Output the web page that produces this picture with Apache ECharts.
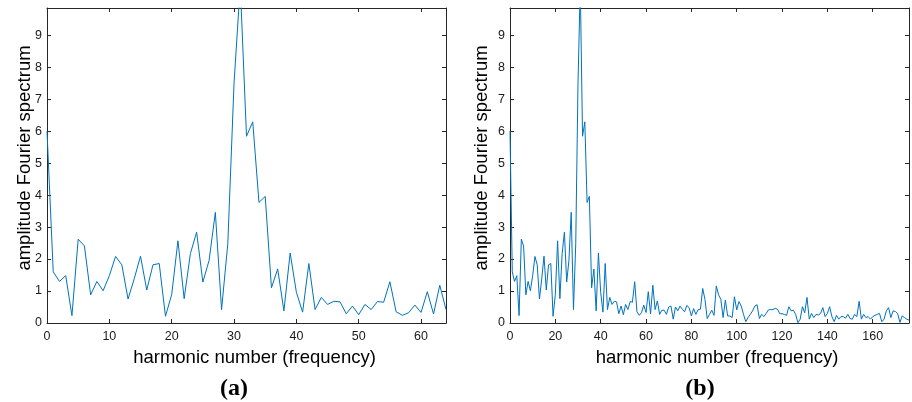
<!DOCTYPE html>
<html>
<head>
<meta charset="utf-8">
<script src="https://cdn.jsdelivr.net/npm/echarts@6/dist/echarts.min.js"></script>
<style>
html,body{margin:0;padding:0;background:#fff;}
#chart{width:912px;height:402px;}
</style>
</head>
<body>
<div id="chart"></div>
<script>
// Harmonic amplitudes, panel (a): harmonics 0..64
var spectrumA = [6.0,1.6,1.3,1.48,0.23,2.62,2.41,0.88,1.3,1.01,
  1.48,2.08,1.82,0.75,1.39,2.09,1.03,1.82,1.86,0.21,
  0.89,2.57,0.76,2.17,2.84,1.28,1.96,3.46,0.42,2.48,
  7.5,10.55,5.84,6.29,3.77,3.96,1.1,1.69,0.38,2.19,
  0.96,0.34,1.86,0.42,0.8,0.58,0.68,0.66,0.29,0.53,
  0.26,0.58,0.42,0.67,0.65,1.29,0.35,0.24,0.32,0.56,
  0.33,0.98,0.28,1.18,0.42];
// Panel (b) continues the same spectrum: harmonics 65..176
var spectrumBTail = [0.69,0.27,0.4,0.4,0.27,0.5,0.53,0.12,0.5,0.38,
  0.53,0.43,0.35,0.55,0.48,0.22,0.45,0.27,0.42,0.43,
  1.08,0.74,0.14,0.27,0.4,0.24,1.16,0.88,0.74,0.17,
  0.72,0.22,0.22,0.17,0.82,0.41,0.67,0.53,0.27,0.04,
  0.17,0.27,0.38,0.53,0.57,0.14,0.27,0.2,0.3,0.41,
  0.42,0.42,0.46,0.43,0.29,0.29,0.27,0.24,0.51,0.38,
  0.4,0.27,0.01,0.12,0.51,0.32,0.8,0.12,0.3,0.17,
  0.27,0.25,0.3,0.48,0.2,0.3,0.51,0.2,0.04,0.24,
  0.12,0.2,0.2,0.15,0.27,0.14,0.12,0.27,0.2,0.68,
  0.12,0.27,0.17,0.2,0.12,0.2,0.24,0.27,0.3,0.04,
  0.12,0.38,0.48,0.17,0.38,0.36,0.29,0.02,0.22,0.17,
  0.12,0.09];
var xTitle = 'harmonic number (frequency)';
var yTitle = 'amplitude Fourier spectrum';
var panelLabels = ['(a)', '(b)'];
var yMax = 9.85;
var xMaxA = 64, xIntA = 10;
var xMaxB = 176, xIntB = 20;

var spectrumB = spectrumA.concat(spectrumBTail);
function pairs(arr){ return arr.map(function(v,i){ return [i, v]; }); }

var axisColor = '#262626';
var tickFont = {color: '#1a1a1a', fontSize: 12.5, fontFamily: 'Liberation Sans, Arial, sans-serif'};
function xAx(gi, max, interval, top){
  return {
    type: 'value', gridIndex: gi, min: 0, max: max, interval: interval,
    position: top ? 'top' : 'bottom',
    axisLine: {show: true, onZero: false, lineStyle: {color: axisColor, width: 1}},
    axisTick: {show: true, inside: true, length: 4, lineStyle: {color: axisColor}},
    axisLabel: top ? {show: false} : Object.assign({show: true, margin: 7, showMaxLabel: false}, tickFont),
    splitLine: {show: false}
  };
}
function yAx(gi, right){
  return {
    type: 'value', gridIndex: gi, min: 0, max: yMax, interval: 1,
    position: right ? 'right' : 'left',
    axisLine: {show: true, onZero: false, lineStyle: {color: axisColor, width: 1}},
    axisTick: {show: true, inside: true, length: 4, lineStyle: {color: axisColor}},
    axisLabel: right ? {show: false} : Object.assign({show: true, margin: 5, showMaxLabel: false}, tickFont),
    splitLine: {show: false}
  };
}
var titleFont = {fontSize: 18.5, fontFamily: 'Liberation Sans, Arial, sans-serif', fill: '#000'};
function txt(x, y, s, rot, font){
  return {type: 'text', x: x, y: y, rotation: rot || 0,
    style: Object.assign({text: s, textAlign: 'center', textVerticalAlign: 'middle'}, font)};
}
var labelFont = {fontSize: 24, fontWeight: 'bold', fontFamily: 'Liberation Serif, Times New Roman, serif', fill: '#000'};

var chart = echarts.init(document.getElementById('chart'), null, {renderer: 'canvas'});
chart.setOption({
  animation: false,
  backgroundColor: '#fff',
  grid: [
    {left: 47, top: 8, width: 399, height: 315},
    {left: 510, top: 8, width: 399, height: 315}
  ],
  xAxis: [xAx(0, xMaxA, xIntA, false), xAx(0, xMaxA, xIntA, true),
          xAx(1, xMaxB, xIntB, false), xAx(1, xMaxB, xIntB, true)],
  yAxis: [yAx(0, false), yAx(0, true), yAx(1, false), yAx(1, true)],
  series: [
    {type: 'line', xAxisIndex: 0, yAxisIndex: 0, data: pairs(spectrumA), showSymbol: false, clip: true,
     lineStyle: {color: '#0072BD', width: 1}, itemStyle: {color: '#0072BD'}},
    {type: 'line', xAxisIndex: 2, yAxisIndex: 2, data: pairs(spectrumB), showSymbol: false, clip: true,
     lineStyle: {color: '#0072BD', width: 1}, itemStyle: {color: '#0072BD'}}
  ],
  graphic: [
    txt(254.5, 358, xTitle, 0, titleFont),
    txt(717, 358, xTitle, 0, titleFont),
    txt(25, 158, yTitle, Math.PI/2, titleFont),
    txt(482, 158, yTitle, Math.PI/2, titleFont),
    txt(234, 389, panelLabels[0], 0, labelFont),
    txt(700, 389, panelLabels[1], 0, labelFont)
  ]
});
</script>
</body>
</html>
